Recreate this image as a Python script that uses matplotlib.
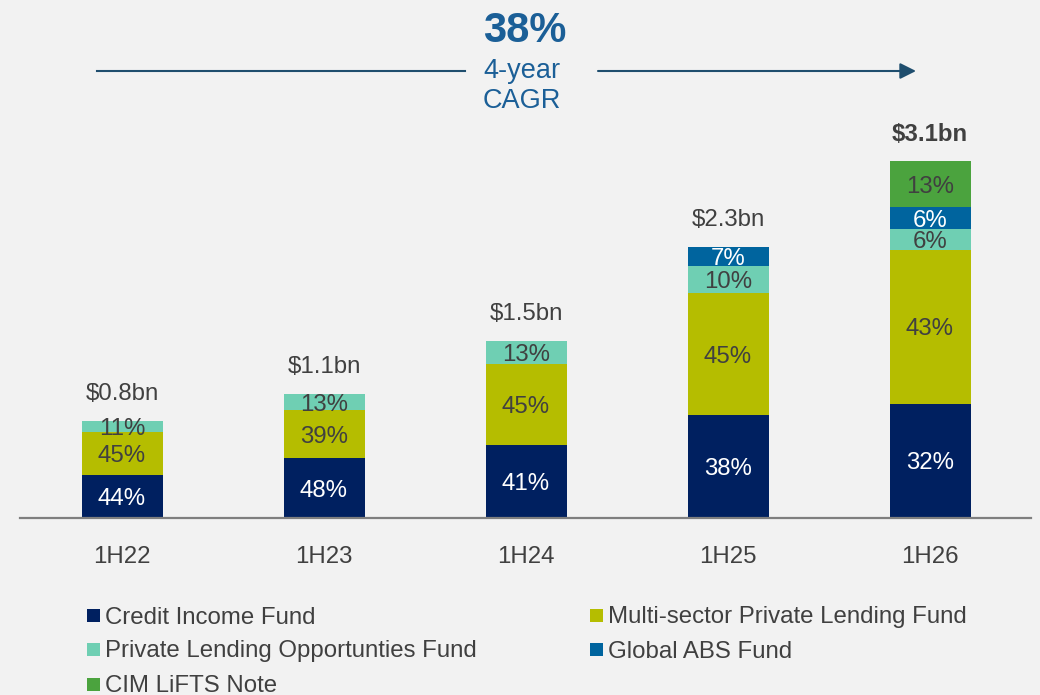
import matplotlib
matplotlib.use("Agg")
import matplotlib.pyplot as plt
from matplotlib.patches import Rectangle
import numpy as np

plt.rcParams['font.family'] = ['Liberation Sans', 'DejaVu Sans']

# ---- data ----
periods = ["1H22", "1H23", "1H24", "1H25", "1H26"]
totals_bn = [0.836, 1.069, 1.526, 2.336, 3.078]          # bar heights
total_labels = ["$0.8bn", "$1.1bn", "$1.5bn", "$2.3bn", "$3.1bn"]
funds = ["Credit Income Fund", "Multi-sector Private Lending Fund",
         "Private Lending Opportunties Fund", "Global ABS Fund", "CIM LiFTS Note"]
credit_income = [44, 48, 41, 38, 32]
multi_sector = [45, 39, 45, 45, 43]
private_lending = [11, 13, 13, 10, 6]
global_abs = [0, 0, 0, 7, 6]
cim_lifts = [0, 0, 0, 0, 13]
cagr_value = "38%"
cagr_lines = ["4-year", "CAGR"]

# ---- style ----
BG = '#F2F2F2'
colors = ['#002060', '#B5BD00', '#6FCFB3', '#00649E', '#4BA33E']
label_colors = ['white', '#404040', '#404040', 'white', '#404040']
TXT = '#404040'
BLUE_TXT = '#1B5F97'
ARROW = '#1F4E6E'

W, H = 1040, 695
fig = plt.figure(figsize=(W / 100, H / 100), dpi=100, facecolor=BG)

def fx(x):
    return x / W

def fy(y):
    return 1 - y / H

# axes: baseline at y=518px, x from 20 to 1031 px
ax = fig.add_axes([fx(20), fy(518), (1031 - 20) / W, 518 / H])
ax.set_facecolor(BG)
px_per_unit_x = 202.0
ax.set_xlim((20 - 122) / px_per_unit_x, (1031 - 122) / px_per_unit_x)
ax.set_ylim(0, 518 / 116.0)

series = [credit_income, multi_sector, private_lending, global_abs, cim_lifts]
x = np.arange(len(periods))
bar_w = 81 / px_per_unit_x
pct = np.array(series, dtype=float)
sums = pct.sum(axis=0)
bottom = np.zeros(len(periods))
for i, s in enumerate(series):
    h = np.array(totals_bn) * pct[i] / sums
    ax.bar(x, h, bar_w, bottom=bottom, color=colors[i], linewidth=0, label=funds[i])
    for j in range(len(periods)):
        if s[j] > 0:
            ax.text(x[j], bottom[j] + h[j] / 2, f"{s[j]}%", ha='center', va='center_baseline',
                    fontsize=17.3, color=label_colors[i])
    bottom = bottom + h

for j in range(len(periods)):
    ax.annotate(total_labels[j], (x[j], totals_bn[j]), xytext=(0, 21), textcoords='offset points',
                ha='center', va='center_baseline', fontsize=17.3, color=TXT,
                fontweight='bold' if j == len(periods) - 1 else 'normal')

for sp in ['top', 'right', 'left']:
    ax.spines[sp].set_visible(False)
ax.spines['bottom'].set_color('#7F7F7F')
ax.spines['bottom'].set_linewidth(1.6)
ax.set_yticks([])
ax.set_xticks(x)
ax.set_xticklabels(periods, fontsize=17.3, color=TXT)
ax.tick_params(axis='x', length=0, pad=20)

# ---- CAGR header ----
fig.text(fx(525), fy(27), cagr_value, ha='center', va='center_baseline', fontsize=30,
         fontweight='bold', color=BLUE_TXT)
fig.text(fx(522), fy(68), cagr_lines[0], ha='center', va='center_baseline', fontsize=19.5,
         color=BLUE_TXT)
fig.text(fx(522), fy(98), cagr_lines[1], ha='center', va='center_baseline', fontsize=19.5,
         color=BLUE_TXT)
fig.add_artist(plt.Line2D([fx(97), fx(465)], [fy(71), fy(71)], color=ARROW, lw=1.5))
ax.annotate('', xy=(916, H - 71), xytext=(598, H - 71), xycoords='figure pixels',
            textcoords='figure pixels',
            arrowprops=dict(arrowstyle='-|>', color=ARROW, lw=1.5, mutation_scale=24,
                            shrinkA=0, shrinkB=0))

# ---- legend ----
leg_pos = [(87, 615), (87, 649), (87, 684), (590, 615), (590, 649)]
order = [0, 2, 4, 1, 3]
for k, idx in enumerate(order):
    lx, ly = leg_pos[k]
    fig.add_artist(Rectangle((fx(lx), fy(ly + 6.5)), 12.5 / W, 13 / H,
                             transform=fig.transFigure, color=colors[idx], linewidth=0))
    fig.text(fx(lx + 18), fy(ly), funds[idx], ha='left', va='center_baseline',
             fontsize=17.3, color=TXT)

fig.savefig('out.png', dpi=100, facecolor=BG)
